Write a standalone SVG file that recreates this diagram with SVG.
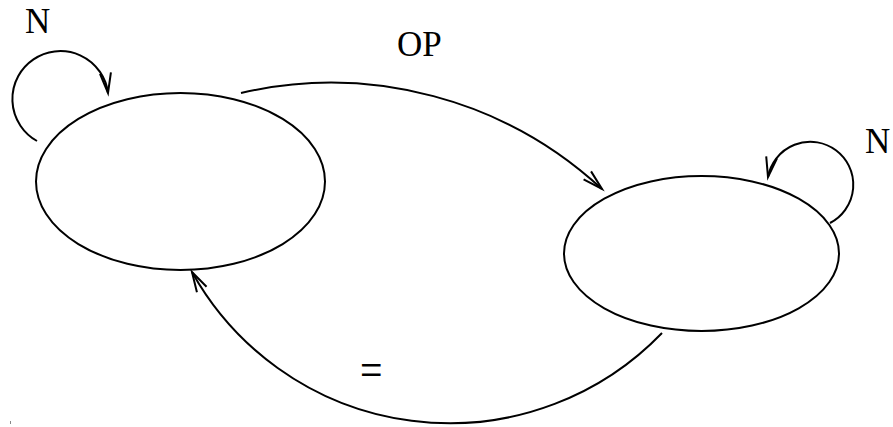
<svg xmlns="http://www.w3.org/2000/svg" width="893" height="427" viewBox="0 0 893 427">
<style>
.st{fill:none;stroke:#000;stroke-width:2}
.lb{font-family:"Liberation Serif","Times New Roman",serif;font-size:35px;fill:#000}
</style>
<defs>
<marker id="ah" markerUnits="userSpaceOnUse" orient="auto" refX="0" refY="0" markerWidth="30" markerHeight="30" overflow="visible">
<path d="M-20,-5.5 L0,0 L-20,5.5" fill="none" stroke="#000" stroke-width="2"/>
</marker>
</defs>
<rect width="893" height="427" fill="#fff"/>
<g id="state-left">
<ellipse class="st" cx="180.5" cy="181.5" rx="144.5" ry="88.5"/>
</g>
<g id="state-right">
<ellipse class="st" cx="701.5" cy="253.5" rx="137.5" ry="77.5"/>
</g>
<g id="connectors">
<path class="st" d="M37,141 A48,48 0 1 1 108,93" marker-end="url(#ah)"/>
<path class="st" d="M241,93 A399,399 0 0 1 602,189" marker-end="url(#ah)"/>
<path class="st" d="M830,223 A43,43 0 1 0 768,177" marker-end="url(#ah)"/>
<path class="st" d="M662,333 A295,295 0 0 1 192,272" marker-end="url(#ah)"/>
</g>
<g id="labels">
<text class="lb" x="25" y="33">N</text>
<text class="lb" x="397" y="56">OP</text>
<text class="lb" x="865" y="153">N</text>
<text class="lb" transform="translate(360,386) scale(1.05,1.25)" style="font-size:38px">=</text>
</g>
<rect x="10" y="421" width="1" height="3" fill="#888"/>
</svg>
